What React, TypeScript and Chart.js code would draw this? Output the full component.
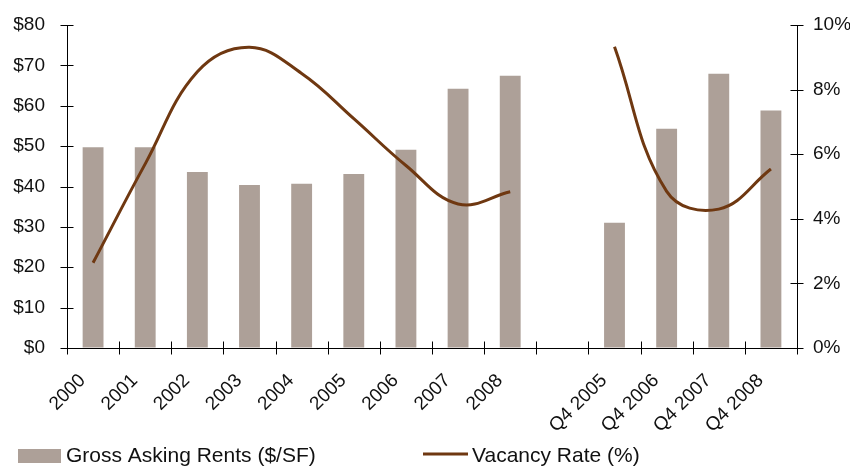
import React, { useEffect, useRef } from "react";
import { Chart, registerables } from "chart.js";

Chart.register(...registerables);

const categories = ["2000", "2001", "2002", "2003", "2004", "2005", "2006", "2007", "2008", "", "Q4 2005", "Q4 2006", "Q4 2007", "Q4 2008"];
const rents = [49.7, 49.7, 43.6, 40.4, 40.7, 43.1, 49.1, 64.2, 67.4, null, 31.0, 54.3, 67.9, 58.8];
const vacancy = [2.64, 5.7, 8.55, 9.31, 8.5, 7.1, 5.65, 4.46, 4.84, null, 9.33, 4.85, 4.3, 5.54];
const rentMax = 80;
const rentStep = 10;
const vacancyMax = 10;
const vacancyStep = 2;
const legendLabels = ["Gross Asking Rents ($/SF)", "Vacancy Rate (%)"];

const BAR_COLOR = "#ada098";
const LINE_COLOR = "#6f3811";
const FONT = "'Liberation Sans', Arial, sans-serif";
const TEXT = "#111111";

const crossTicks = {
  id: "crossTicks",
  afterDraw(chart: any) {
    const { ctx, chartArea, scales } = chart;
    ctx.save();
    ctx.strokeStyle = "#000";
    ctx.lineWidth = 1;
    const half = 6.5;
    const yl = scales.y;
    yl.ticks.forEach((_t: any, i: number) => {
      const p = Math.round(yl.getPixelForTick(i)) + 0.5;
      ctx.beginPath();
      ctx.moveTo(chartArea.left - half, p);
      ctx.lineTo(chartArea.left + half, p);
      ctx.stroke();
    });
    const yr = scales.y1;
    yr.ticks.forEach((_t: any, i: number) => {
      const p = Math.round(yr.getPixelForTick(i)) + 0.5;
      ctx.beginPath();
      ctx.moveTo(chartArea.right - half, p);
      ctx.lineTo(chartArea.right + half, p);
      ctx.stroke();
    });
    const xs = scales.x;
    const n = categories.length;
    const w = (chartArea.right - chartArea.left) / n;
    for (let i = 0; i <= n; i++) {
      const p = Math.round(chartArea.left + i * w) + 0.5;
      ctx.beginPath();
      ctx.moveTo(p, chartArea.bottom - half);
      ctx.lineTo(p, chartArea.bottom + half);
      ctx.stroke();
    }
    // rotated category labels
    ctx.fillStyle = TEXT;
    ctx.font = `19px ${FONT}`;
    ctx.textAlign = "right";
    ctx.textBaseline = "middle";
    categories.forEach((label, i) => {
      if (!label) return;
      const px = xs.getPixelForTick(i);
      ctx.save();
      ctx.translate(px - 10.5, chartArea.bottom + 29.5);
      ctx.rotate(-Math.PI / 4);
      ctx.fillText(label, 0, 0);
      ctx.restore();
    });
    ctx.restore();
  },
};

const customLegend = {
  id: "customLegend",
  afterDraw(chart: any) {
    const { ctx } = chart;
    ctx.save();
    const cy = 448;
    ctx.fillStyle = BAR_COLOR;
    ctx.fillRect(10, cy - 7, 43, 14);
    ctx.font = `21px ${FONT}`;
    ctx.textBaseline = "middle";
    ctx.textAlign = "left";
    ctx.fillStyle = TEXT;
    ctx.fillText(legendLabels[0], 58, cy);
    ctx.strokeStyle = LINE_COLOR;
    ctx.lineWidth = 3;
    ctx.beginPath();
    ctx.moveTo(415, cy - 2);
    ctx.lineTo(460, cy - 2);
    ctx.stroke();
    ctx.fillText(legendLabels[1], 464, cy);
    ctx.restore();
  },
};

export default function App() {
  const ref = useRef<HTMLCanvasElement>(null);
  useEffect(() => {
    if (!ref.current) return;
    const chart = new Chart(ref.current, {
      type: "bar",
      data: {
        labels: categories,
        datasets: [
          {
            type: "line",
            label: legendLabels[1],
            data: vacancy as any,
            yAxisID: "y1",
            borderColor: LINE_COLOR,
            borderWidth: 3,
            pointRadius: 0,
            tension: 0.4,
            spanGaps: false,
            fill: false,
            order: 0,
          } as any,
          {
            type: "bar",
            label: legendLabels[0],
            data: rents as any,
            yAxisID: "y",
            backgroundColor: BAR_COLOR,
            barPercentage: 0.4,
            categoryPercentage: 1,
            order: 1,
          } as any,
        ],
      },
      options: {
        responsive: false,
        animation: false,
        layout: { padding: { top: 17, left: 0, right: 0, bottom: 0 } },
        plugins: { legend: { display: false }, tooltip: { enabled: false } },
        scales: {
          x: {
            type: "category",
            offset: true,
            grid: { display: false, drawTicks: false },
            border: { display: true, color: "#000", width: 1 },
            ticks: { display: false, autoSkip: false },
            afterFit: (s: any) => {
              s.height = 118;
            },
          },
          y: {
            position: "left",
            min: 0,
            max: rentMax,
            grid: { display: true, drawOnChartArea: false, drawTicks: true, tickLength: 18, color: "rgba(0,0,0,0)" },
            border: { display: true, color: "#000", width: 1 },
            ticks: {
              stepSize: rentStep,
              padding: 4,
              color: TEXT,
              font: { family: FONT, size: 19 },
              callback: (v: any) => "$" + v,
            },
            afterFit: (s: any) => {
              s.width = 59;
            },
          },
          y1: {
            position: "right",
            min: 0,
            max: vacancyMax,
            grid: { display: true, drawOnChartArea: false, drawTicks: true, tickLength: 12, color: "rgba(0,0,0,0)" },
            border: { display: true, color: "#000", width: 1 },
            ticks: {
              stepSize: vacancyStep,
              padding: 4,
              color: TEXT,
              font: { family: FONT, size: 19 },
              callback: (v: any) => v + "%",
            },
            afterFit: (s: any) => {
              s.width = 53;
            },
          },
        },
      },
      plugins: [crossTicks, customLegend],
    });
    return () => chart.destroy();
  }, []);
  return <canvas ref={ref} width={842} height={458} style={{ display: "block" }} />;
}
